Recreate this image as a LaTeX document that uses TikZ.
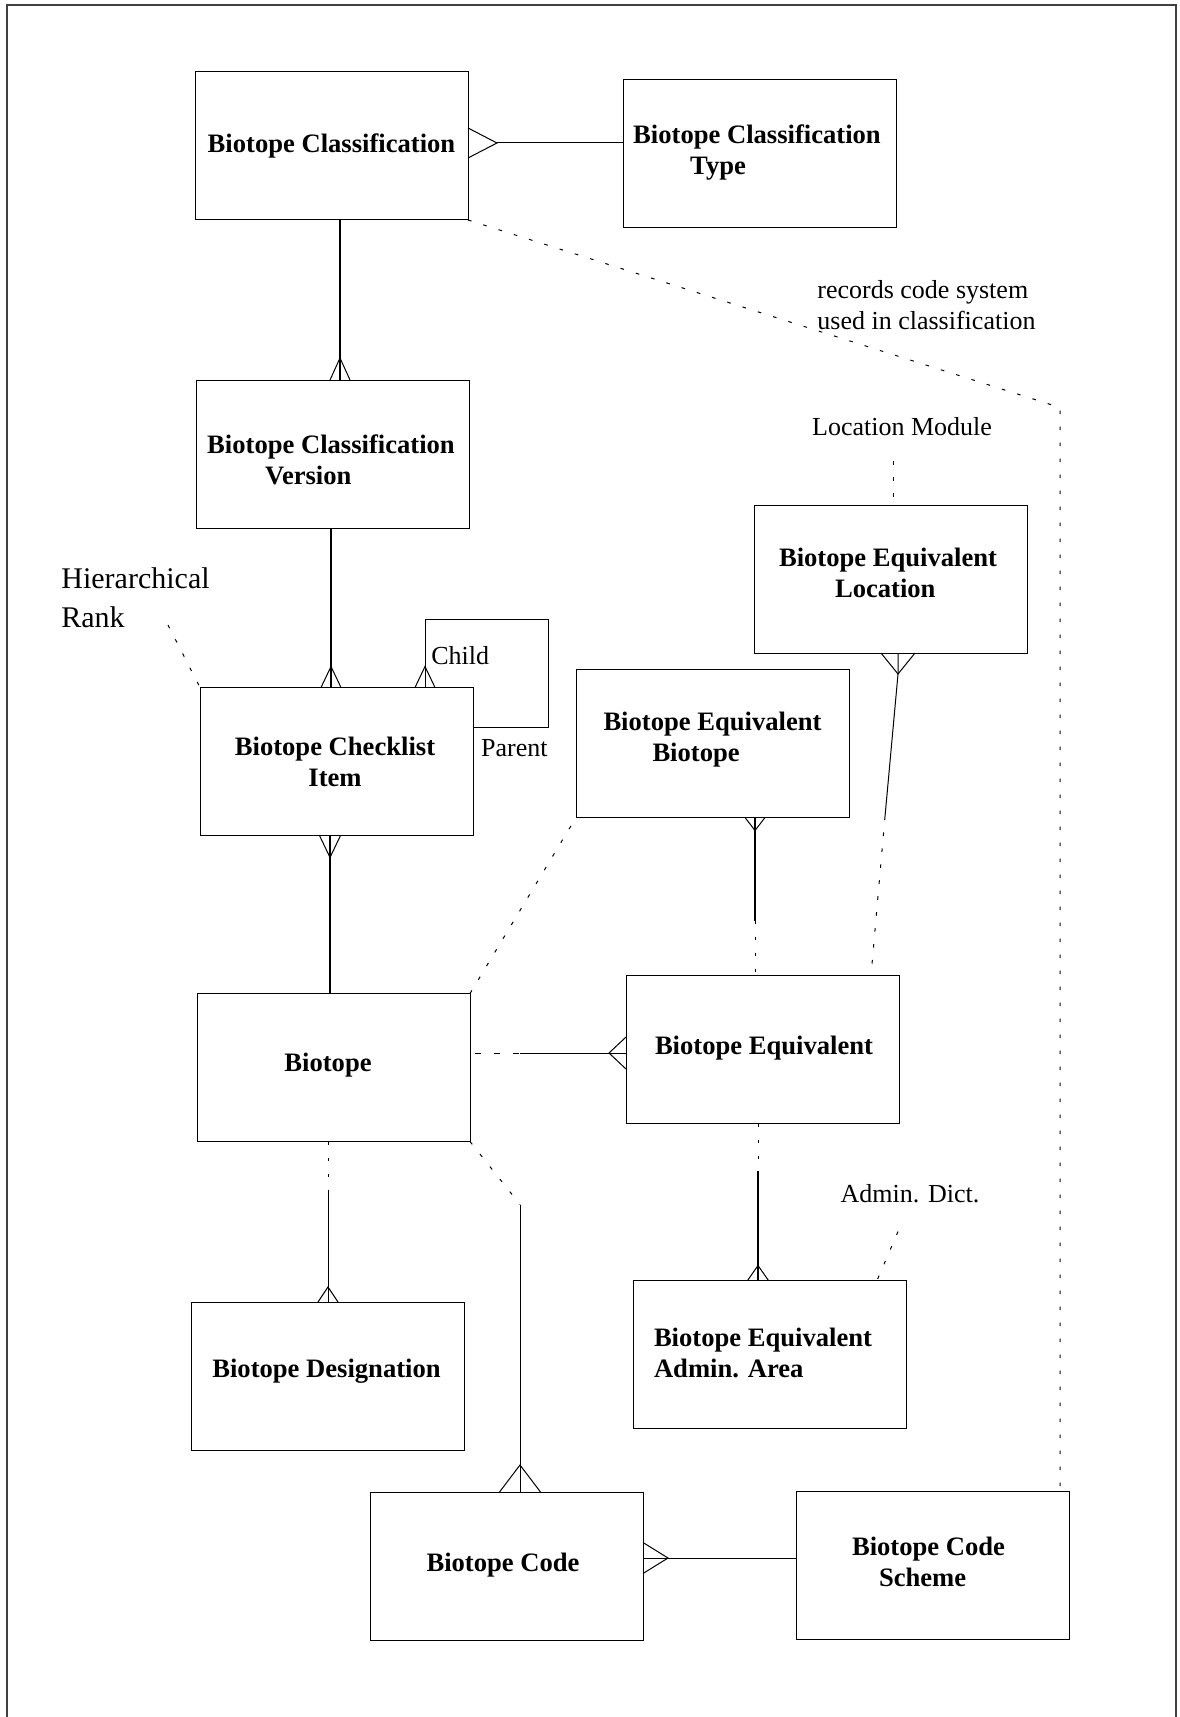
\documentclass[tikz,border=0pt]{standalone}
\usepackage{fontspec}
\setmainfont{Liberation Serif}
\usetikzlibrary{calc}
% crow's foot: #1 apex, #2 point on the box edge, #3 half spread
\newcommand\crowsfoot[3]{\draw[rel] ($(#2)+(#3)$) -- (#1) -- ($(#2)-(#3)$);}
\begin{document}
\begin{tikzpicture}[x=0.5pt,y=-0.5pt,
  entity/.style={draw, line width=0.5pt, inner sep=0pt, outer sep=0pt,
    minimum width=136.5pt, minimum height=74pt},
  etext/.style={inner sep=0pt, font=\bfseries\fontsize{13.3}{15.5}\selectfont},
  note/.style={inner sep=0pt, font=\fontsize{13}{15.5}\selectfont, align=left},
  rel/.style={line width=0.5pt},
  strong/.style={line width=1pt},
  opt/.style={line width=0.5pt, dash pattern=on 1.8pt off 6.2pt},
  optlong/.style={line width=0.5pt, dash pattern=on 3pt off 6.5pt, dash phase=-2.5pt},
  frame/.style={line width=1pt, draw=black!75}]

\useasboundingbox (0,0) rectangle (1179,1717);

% page frame
\draw[frame] (6.5,1717) -- (6.5,5) -- (1176,5) -- (1176,1717);

% entity boxes
\node[entity] (bc) at (331.5,146) {};
\node[entity] (bct) at (760,154) {};
\node[entity] (bcv) at (333,454) {};
\node[entity] (bci) at (336.5,761.5) {};
\node[entity] (beb) at (712.5,743.5) {};
\node[entity] (bel) at (891,579) {};
\node[entity] (bio) at (333.5,1067.5) {};
\node[entity] (be) at (762.5,1049.5) {};
\node[entity] (beaa) at (769.5,1354.5) {};
\node[entity] (bd) at (328,1376) {};
\node[entity] (bcode) at (506.5,1566) {};
\node[entity] (bcs) at (933,1565.5) {};

% entity names
\node[etext] (bc-t) at ($(bc)+(0,0)$) {Biotope Classification};
\node[etext, align=left] (bct-t) at ($(bct)+(-3,-1)$) {Biotope Classification\\\hspace*{28.5pt}Type};
\node[etext, align=left] (bcv-t) at ($(bcv)+(-2,5.5)$) {Biotope Classification\\\hspace*{29pt}Version};
\node[etext, align=center] (bci-t) at ($(bci)+(-1.5,0)$) {Biotope Checklist\\Item};
\node[etext, align=left] (beb-t) at ($(beb)+(0,-4)$) {Biotope Equivalent\\\hspace*{24.5pt}Biotope};
\node[etext, align=left] (bel-t) at ($(bel)+(-3,-6.5)$) {Biotope Equivalent\\\hspace*{28pt}Location};
\node[etext] (bio-t) at ($(bio)+(-5.5,-2)$) {Biotope};
\node[etext] (be-t) at ($(be)+(1.5,-1)$) {Biotope Equivalent};
\node[etext, align=left] (beaa-t) at ($(beaa)+(-6.5,-2)$) {Biotope Equivalent\\Admin. Area};
\node[etext] (bd-t) at ($(bd)+(-1.5,-4.5)$) {Biotope Designation};
\node[etext] (bcode-t) at ($(bcode)+(-3.5,-1)$) {Biotope Code};
\node[etext, align=left] (bcs-t) at ($(bcs)+(-4.5,-4)$) {Biotope Code\\\hspace*{13.5pt}Scheme};

% annotations
\node[note, anchor=west] (rec) at (817,305) {records code system\\used in classification};
\node[note] (locmod) at (902,427) {Location Module};
\node[note] (admin) at (910,1194) {Admin. Dict.};
\node[note, font=\fontsize{15}{19.5}\selectfont, anchor=west] (hrank) at (61,598) {Hierarchical\\Rank};
\node[note, anchor=base west] (child) at (431,664) {Child};
\node[note, anchor=base east] (parent) at (548,756) {Parent};

% classification -- classification type
\coordinate (a1) at ($(bc.east)+(29,-3)$);
\draw[rel] (bct.west |- a1) -- (a1);
\crowsfoot{a1}{bc.east |- a1}{0,15}

% classification -- version
\coordinate (a2) at ($(bcv.north)+(7,-22)$);
\draw[strong] (bc.south -| a2) -- (bcv.north -| a2);
\crowsfoot{a2}{bcv.north -| a2}{10,0}

% version -- checklist item
\coordinate (a3) at ($(bci.north)+(-5.5,-21)$);
\draw[strong] (bcv.south -| a3) -- (bci.north -| a3);
\crowsfoot{a3}{bci.north -| a3}{10,0}

% parent / child recursion
\coordinate (a4) at ($(bci.north)+(88.5,-21)$);
\coordinate (loop) at ($(bci.north east)+(75,-68)$);
\draw[rel] (bci.north -| a4) |- (loop) |- ($(bci.east)+(0,-34.5)$);
\crowsfoot{a4}{bci.north -| a4}{10,0}

% hierarchical rank
\coordinate (hr) at (168,625);
\draw[opt] (hr) -- (bci.north west);

% checklist item -- biotope
\coordinate (a5) at ($(bci.south)+(-6.5,22)$);
\draw[strong] (bci.south -| a5) -- (bio.north -| a5);
\crowsfoot{a5}{bci.south -| a5}{10.5,0}

% biotope -- equivalent biotope
\draw[opt] (bio.north east) -- (beb.south west);

% equivalent biotope -- equivalent
\coordinate (a6) at ($(beb.south)+(42.5,13)$);
\coordinate (m6) at ($(be.north)+(-7.5,-55)$);
\draw[strong] (beb.south -| a6) -- (m6);
\draw[opt] (m6) -- (be.north -| m6);
\crowsfoot{a6}{beb.south -| a6}{10,0}

% equivalent location -- equivalent
\coordinate (a7) at ($(bel.south)+(7,21)$);
\coordinate (m7) at ($(be.north)+(122.5,-159)$);
\draw[rel] (bel.south -| a7) -- (a7) -- (m7);
\draw[opt] (m7) -- ($(be.north)+(108.5,0)$);
\crowsfoot{a7}{bel.south -| a7}{17,0}

% location module
\coordinate (lm) at ($(bel.north)+(2,-44)$);
\draw[opt] (lm) -- (bel.north -| lm);

% biotope -- equivalent
\coordinate (a8) at ($(be.west)+(-17,3.5)$);
\coordinate (m8) at ($(bio.east)+(50,-14.5)$);
\draw[optlong] (bio.east |- m8) -- (m8);
\draw[rel] (m8) -- (be.west |- m8);
\crowsfoot{a8}{be.west |- a8}{0,16}

% biotope -- designation
\coordinate (a9) at ($(bd.north)+(0,-15)$);
\coordinate (m9) at ($(bio.south)+(-5.5,48)$);
\draw[opt] (bio.south -| m9) -- (m9);
\draw[rel] (m9) -- (bd.north);
\crowsfoot{a9}{bd.north}{10,0}

% biotope -- code
\coordinate (m10) at ($(bio.south east)+(50,63)$);
\coordinate (a10) at ($(bcode.north)+(13.5,-27)$);
\draw[opt] (bio.south east) -- (m10);
\draw[rel] (m10) -- (bcode.north -| m10);
\crowsfoot{a10}{bcode.north -| a10}{20.5,0}

% equivalent -- admin area
\coordinate (m11) at ($(be.south)+(-4.5,47)$);
\coordinate (a11) at ($(beaa.north)+(-11.5,-15)$);
\draw[opt] (be.south -| m11) -- (m11);
\draw[strong] (m11) -- (beaa.north -| m11);
\crowsfoot{a11}{beaa.north -| a11}{10.5,0}

% admin dictionary
\coordinate (ad) at ($(beaa.north)+(128.5,-49)$);
\draw[opt] (ad) -- ($(beaa.north)+(107.5,0)$);

% code -- code scheme
\coordinate (a12) at ($(bcode.east)+(25,-8)$);
\draw[rel] (bcode.east |- a12) -- (bcs.west |- a12);
\crowsfoot{a12}{bcode.east |- a12}{0,15.5}

% classification -- code scheme
\coordinate (rc) at ($(bcs.north)+(127,-1084)$);
\draw[opt] (bc.south east) -- (rc) -- (bcs.north -| rc);

\end{tikzpicture}
\end{document}
